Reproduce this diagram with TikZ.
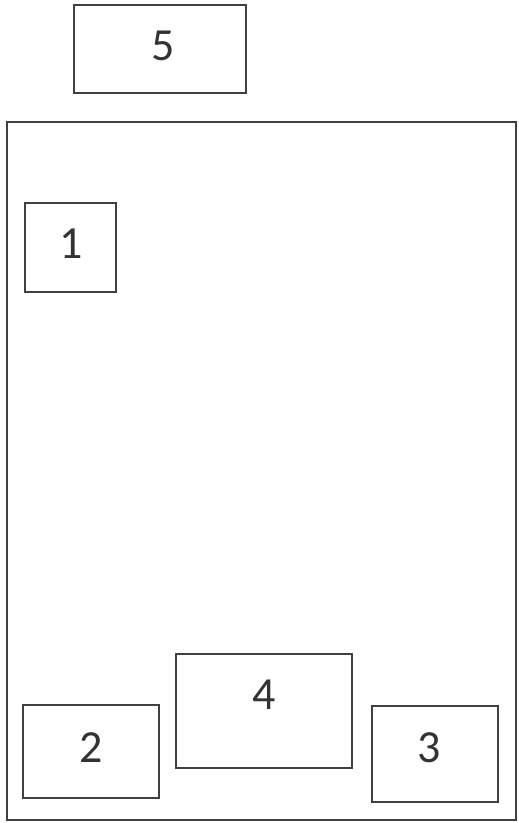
\documentclass[tikz,border=0pt]{standalone}
\usepackage{fontspec}
\setmainfont{Carlito}
\begin{document}
\begin{tikzpicture}[x=1pt,y=-1pt,
  boxline/.style={draw=black!75,line width=1.1pt},
  boxnode/.style={boxline,rectangle,inner sep=0pt,outer sep=0pt},
  digit/.style={anchor=base,inner sep=0pt,text=black!80,font=\fontsize{46}{46}\selectfont}]
\useasboundingbox (0,0) rectangle (519,823);
\node[boxnode,minimum width=509pt,minimum height=698pt] (outer) at (261.5,471) {};
\node[boxnode,minimum width=172pt,minimum height=88pt] (b5) at (160,49) {};
\node[boxnode,minimum width=91pt,minimum height=89pt] (b1) at (70.5,247.5) {};
\node[boxnode,minimum width=136pt,minimum height=93pt] (b2) at (91,751.5) {};
\node[boxnode,minimum width=176pt,minimum height=114pt] (b4) at (264,711) {};
\node[boxnode,minimum width=126pt,minimum height=96pt] (b3) at (435,754) {};
\node[digit] (t5) at (163,60) {5};
\node[digit] (t1) at (71,258) {1};
\node[digit] (t2) at (91,762) {2};
\node[digit] (t4) at (264,709) {4};
\node[digit] (t3) at (429,762) {3};
\end{tikzpicture}
\end{document}
